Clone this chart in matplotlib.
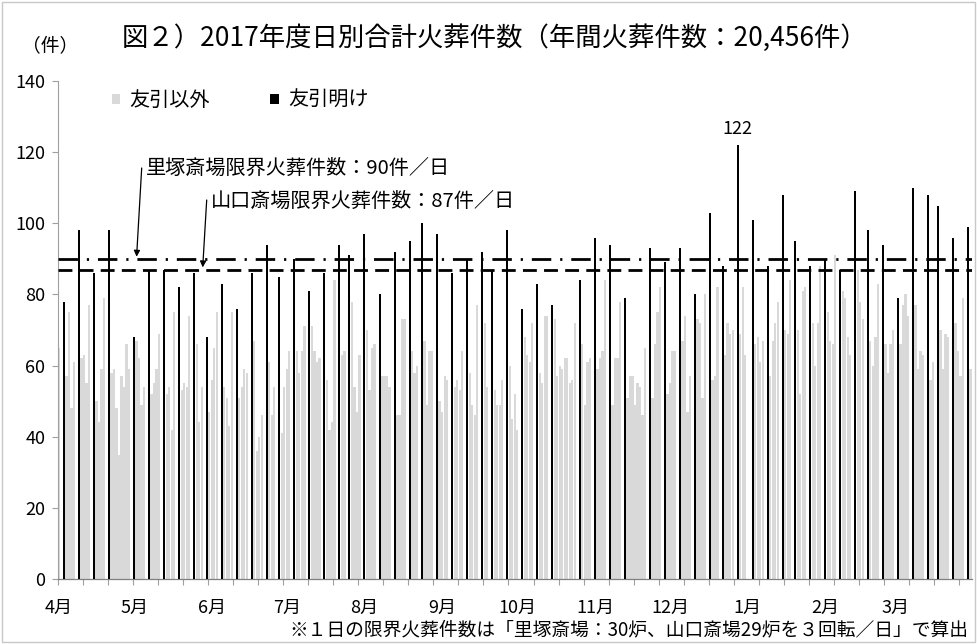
import matplotlib
matplotlib.use('Agg')
import matplotlib.pyplot as plt
import numpy as np
import pandas as pd
from matplotlib.patches import Rectangle, Patch

plt.rcParams['font.family'] = ['Noto Sans CJK JP', 'DejaVu Sans']

# ---------------- data (daily cremations, FY2017) ----------------
apr = [65, 0, 78, 57, 75, 48, 61, 0, 98, 62, 63, 55, 77, 0, 86, 50, 44, 59, 79, 0,
       98, 58, 59, 48, 35, 57, 54, 66, 59, 0]
may = [68, 67, 62, 49, 54, 0, 87, 52, 55, 59, 69, 0, 87, 52, 54, 42, 75, 0, 82, 53,
       55, 54, 74, 0, 86, 66, 44, 54, 0, 68, 47]
jun = [56, 65, 75, 0, 83, 54, 51, 43, 75, 0, 76, 51, 54, 59, 58, 0, 86, 67, 36, 40,
       46, 0, 94, 61, 46, 54, 0, 85, 41, 54]
jul = [59, 64, 0, 90, 64, 58, 64, 71, 0, 81, 71, 64, 61, 62, 0, 86, 56, 42, 44, 84,
       0, 94, 63, 64, 0, 91, 78, 54, 47, 63, 0]
aug = [97, 70, 53, 65, 66, 0, 80, 57, 57, 57, 54, 0, 92, 46, 46, 73, 73, 0, 95, 64,
       58, 60, 0, 100, 67, 49, 64, 64, 0, 97, 50]
sep = [47, 57, 56, 0, 86, 54, 56, 53, 64, 0, 90, 58, 49, 46, 77, 0, 92, 72, 54, 0,
       87, 53, 49, 49, 56, 0, 98, 60, 45, 52]
oct_ = [42, 0, 76, 68, 63, 61, 72, 0, 83, 58, 55, 74, 74, 0, 77, 73, 57, 60, 59, 62,
        62, 55, 56, 72, 0, 84, 66, 49, 61, 62, 0]
nov = [96, 59, 62, 64, 84, 0, 94, 49, 62, 62, 78, 0, 79, 51, 57, 57, 49, 55, 54, 46,
       65, 0, 93, 51, 66, 75, 82, 0, 89, 52]
dec = [55, 64, 64, 0, 93, 67, 74, 47, 57, 0, 80, 73, 72, 51, 80, 0, 103, 56, 57, 82,
       0, 88, 63, 72, 69, 70, 0, 122, 69, 82, 63]
jan = [0, 0, 101, 66, 68, 61, 67, 0, 88, 57, 67, 72, 78, 0, 108, 70, 69, 84, 0, 95,
       70, 52, 81, 82, 0, 88, 72, 60, 72, 88, 0]
feb = [90, 75, 67, 66, 91, 0, 87, 81, 79, 68, 63, 0, 109, 87, 78, 73, 0, 98, 67, 60,
       68, 83, 0, 94, 66, 58, 66, 70]
mar = [0, 79, 66, 77, 80, 74, 0, 110, 77, 59, 64, 63, 0, 108, 56, 61, 0, 105, 70, 59,
       69, 68, 0, 96, 72, 64, 57, 79, 0, 99, 59]

# days following 友引 (友引明け)
akebi_dates = ['2017-04-03', '2017-04-09', '2017-04-15', '2017-04-21', '2017-05-01',
               '2017-05-07', '2017-05-13', '2017-05-19', '2017-05-25', '2017-05-30',
               '2017-06-05', '2017-06-11', '2017-06-17', '2017-06-23', '2017-06-28',
               '2017-07-04', '2017-07-10', '2017-07-16', '2017-07-22', '2017-07-26',
               '2017-08-01', '2017-08-07', '2017-08-13', '2017-08-19', '2017-08-24',
               '2017-08-30', '2017-09-05', '2017-09-11', '2017-09-17', '2017-09-21',
               '2017-09-27', '2017-10-03', '2017-10-09', '2017-10-15', '2017-10-26',
               '2017-11-01', '2017-11-07', '2017-11-13', '2017-11-23', '2017-11-29',
               '2017-12-05', '2017-12-11', '2017-12-17', '2017-12-22', '2017-12-28',
               '2018-01-03', '2018-01-09', '2018-01-15', '2018-01-20', '2018-01-26',
               '2018-02-01', '2018-02-07', '2018-02-13', '2018-02-18', '2018-02-24',
               '2018-03-02', '2018-03-08', '2018-03-14', '2018-03-18', '2018-03-24',
               '2018-03-30']

month_labels = ['4月', '5月', '6月', '7月', '8月', '9月', '10月', '11月', '12月', '1月', '2月', '3月']
limit_satozuka = 90
limit_yamaguchi = 87
title = '図２）2017年度日別合計火葬件数（年間火葬件数：20,456件）'
note = '※１日の限界火葬件数は「里塚斎場：30炉、山口斎場29炉を３回転／日」で算出'

# ---------------- build ----------------
dates = pd.date_range('2017-04-01', '2018-03-31', freq='D')
total = np.array(apr + may + jun + jul + aug + sep + oct_ + nov + dec + jan + feb + mar, dtype=float)
is_akebi = dates.isin(pd.to_datetime(akebi_dates))
x = np.arange(len(dates))
gray_vals = np.where(is_akebi, 0, total)
black_vals = total[is_akebi]

W, H = 977, 644
fig = plt.figure(figsize=(W / 100, H / 100), dpi=100)

def fx(px):
    return px / W

def fy(py):
    return 1 - py / H

ax_left, ax_right, ax_top, ax_bot = 57.7, 971.8, 81, 579
ax = fig.add_axes([fx(ax_left), fy(ax_bot), (ax_right - ax_left) / W, (ax_bot - ax_top) / H])

gray_col = '#d9d9d9'
ax.bar(x, gray_vals, width=0.9, color=gray_col, linewidth=0, zorder=2)
ax.bar(x[is_akebi], black_vals, width=0.8, color='black', linewidth=0, zorder=4)

ax.axhline(limit_satozuka, color='black', lw=2.0, dashes=(7, 3.2, 0.8, 3.2), zorder=3)
ax.axhline(limit_yamaguchi, color='black', lw=2.0, dashes=(5, 2.6), zorder=3)

ax.set_xlim(-0.5, len(dates) - 0.5)
ax.set_ylim(0, 140)
ax.set_yticks(np.arange(0, 141, 20))
ax.tick_params(axis='y', direction='out', length=4, width=0.8, color='#a0a0a0',
               labelsize=13, pad=5)

month_starts = [i for i, d in enumerate(dates) if d.day == 1]
ax.set_xticks(np.arange(-0.5, len(dates), 10))
ax.set_xticklabels([])
ax.set_xticks(month_starts, minor=True)
ax.set_xticklabels(month_labels, minor=True, fontsize=13)
ax.tick_params(axis='x', which='major', direction='out', length=4, width=0.8, color='#a0a0a0')
ax.tick_params(axis='x', which='minor', length=0, pad=14)

for s in ['top', 'right']:
    ax.spines[s].set_visible(False)
ax.spines['left'].set_color('#a0a0a0')
ax.spines['left'].set_linewidth(0.8)
ax.spines['bottom'].set_color('#808080')
ax.spines['bottom'].set_linewidth(0.9)

# max label
imax = int(np.argmax(total))
ax.annotate(f'{int(total[imax])}', xy=(imax, total[imax]), xytext=(0, 5),
            textcoords='offset points', ha='center', va='bottom', fontsize=13)

# annotations for limit lines
ax.annotate('', xy=(31.0, limit_satozuka + 0.6), xytext=(141.7, H - 168),
            textcoords='figure pixels',
            arrowprops=dict(arrowstyle='-|>', color='black', lw=0.9, mutation_scale=9,
                            shrinkA=0, shrinkB=0))
ax.annotate('', xy=(57.4, limit_yamaguchi + 0.6), xytext=(206.7, H - 200),
            textcoords='figure pixels',
            arrowprops=dict(arrowstyle='-|>', color='black', lw=0.9, mutation_scale=9,
                            shrinkA=0, shrinkB=0))
fig.text(fx(146), fy(168), f'里塚斎場限界火葬件数：{limit_satozuka}件／日', fontsize=14.5,
         ha='left', va='center')
fig.text(fx(211), fy(201), f'山口斎場限界火葬件数：{limit_yamaguchi}件／日', fontsize=14.5,
         ha='left', va='center')

# legend
handles = [Patch(facecolor=gray_col, edgecolor='none'), Patch(facecolor='black', edgecolor='none')]
fig.legend(handles, ['友引以外', '友引明け'], ncol=2, loc='upper left',
           bbox_to_anchor=(fx(112), fy(90)), bbox_transform=fig.transFigure,
           frameon=False, fontsize=14.5, handlelength=0.42, handleheight=0.42,
           handletextpad=0.45, columnspacing=3.0, borderpad=0, borderaxespad=0)

fig.text(fx(122), fy(38), title, fontsize=19, ha='left', va='center')
fig.text(fx(22), fy(46), '（件）', fontsize=13.5, ha='left', va='center')
fig.text(fx(968), fy(630), note, fontsize=13.5, ha='right', va='center')

fig.add_artist(Rectangle((fx(2), fy(642)), (W - 4) / W, (H - 4) / H, transform=fig.transFigure,
                         fill=False, edgecolor='#c8c8c8', lw=1.0))

fig.savefig('out.png', dpi=100)
